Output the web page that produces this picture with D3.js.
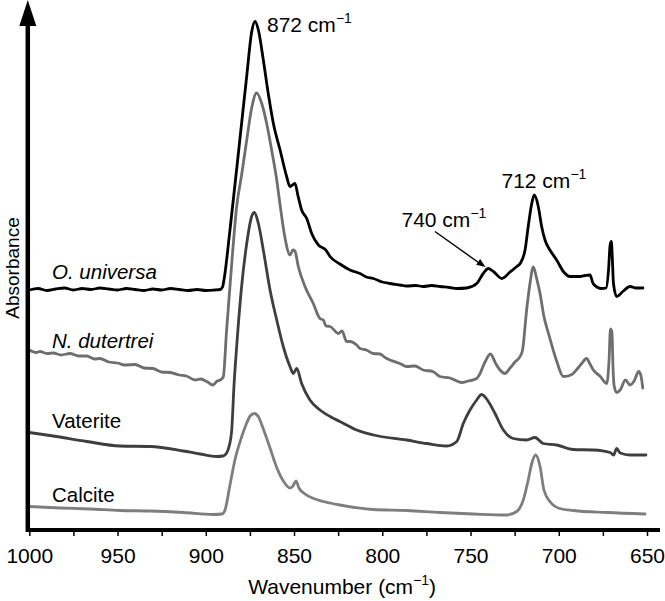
<!DOCTYPE html>
<html>
<head>
<meta charset="utf-8">
<script src="https://cdn.jsdelivr.net/npm/d3@7"></script>
<style>
  html, body { margin: 0; padding: 0; background: #fff; }
  svg { display: block; }
  text { font-family: "Liberation Sans", Arial, Helvetica, sans-serif; fill: #000; }
</style>
</head>
<body>
<svg id="chart" width="665" height="601"></svg>
<script>
// ---------- data (wavenumber cm^-1, absorbance a.u. incl. vertical offset) ----------
const majorTicks = [1000, 950, 900, 850, 800, 750, 700, 650];
const minorTicks = [975, 925, 875, 825, 775, 725, 675];
const seriesNames = ["O. universa", "N. dutertrei", "Vaterite", "Calcite"];
const peakWavenumbers = [872, 740, 712];

const oUniversa = [
  [1000,48.0],[995,48.3],[990,47.9],[985,48.2],[980,48.4],[975,48.0],[970,48.3],[965,48.1],
  [960,48.4],[955,48.2],[950,48.0],[945,48.3],[940,48.1],[935,47.9],[930,48.2],[925,48.0],
  [920,48.3],[915,48.1],[910,47.9],[905,48.1],[900,47.9],[895,48.0],[891.9,48.1],[890.5,48.6],
  [889.7,50.0],[886.3,60.0],[880.6,78.4],[876.8,90.8],[874.0,99.6],[872.1,101.7],
  [870.2,100.0],[867.4,94.0],[864.6,87.3],[861.7,81.3],[857.9,76.0],[854.2,70.7],[852.3,68.7],
  [849.5,69.3],[847.6,66.6],[845.7,64.0],[842.8,62.3],[840.0,59.3],[836.2,57.0],[832,56.0],
  [829.6,54.7],[824.0,53.2],[818.3,52.0],[812.6,51.3],[809,50.6],[805.1,50.3],[800,49.6],
  [795.6,49.3],[790,49.0],[786.2,48.8],[781,48.9],[776.8,48.7],[772,48.9],[767.3,48.7],
  [762,48.5],[757.8,48.3],[752.2,48.4],[746.5,49.3],[742.8,51.3],[739.9,52.3],[736.7,51.6],
  [732.3,50.3],[727.6,51.6],[723.8,52.7],[721.9,53.3],[719.1,56.0],[717.3,60.7],[715.3,65.3],
  [713.9,67.0],[711.6,64.7],[709.7,60.7],[707.8,58.0],[705.0,56.0],[701.2,54.0],[697.4,51.7],
  [693.6,50.7],[688.0,50.7],[685,50.9],[682.3,51.0],[680.4,49.2],[675.7,48.3],[673.2,48.4],
  [671.8,52.0],[670.9,57.0],[670.2,57.7],[669.6,54.0],[669.0,49.3],[667.2,46.7],[663.4,47.8],
  [659.6,48.7],[656.2,48.4],[652.3,48.4]
];

const nDutertrei = [
  [1000,36.0],[996,35.5],[993.9,35.7],[990,35.3],[986.4,35.4],[982,35.0],[977,35.3],[972,34.8],
  [967.5,34.8],[963,34.2],[960,34.3],[955,33.6],[950,33.4],[946,33.0],[940,33.1],[935,32.4],
  [930,32.3],[925,31.6],[920,31.5],[915,31.0],[911,30.8],[906,30.0],[903,30.2],[899,29.6],
  [896,29.0],[893.5,29.8],[891.9,30.0],[890.1,30.6],[888.2,40.0],[885.3,53.3],[882.5,64.7],
  [879.7,71.0],[876.8,78.0],[874.0,84.4],[871.2,87.4],[868.3,85.3],[865.5,81.3],[862.7,76.0],
  [859.8,70.0],[857.9,65.0],[855.1,58.4],[852.3,55.0],[850.6,56.0],[849.5,55.8],[847.6,52.7],
  [843.8,48.7],[839.1,45.3],[835.3,42.3],[833.4,42.0],[831.9,40.8],[829.6,40.7],[824.9,39.3],
  [822.8,39.8],[820.2,37.7],[818.3,37.7],[814.5,37.0],[812.6,36.3],[809,36.0],[805.1,35.3],
  [801.3,35.2],[798,34.4],[795.6,34.0],[790.0,33.3],[786.2,32.7],[781.5,32.8],[776.8,32.0],
  [771.3,31.7],[767.3,30.7],[761.7,30.4],[755.0,29.5],[752.2,29.7],[746.5,30.3],[744.6,31.3],
  [741.8,33.6],[738.7,35.2],[735.6,33.2],[733.3,32.0],[730.5,31.3],[727.6,32.4],[724.8,33.6],
  [721.9,34.7],[720.5,36.0],[718.2,44.0],[716.3,49.3],[714.4,52.6],[712.6,50.4],[710.6,47.3],
  [708.4,42.7],[705.9,39.4],[701.2,33.8],[697.4,30.7],[694.8,30.8],[691.8,31.3],[689.1,32.4],
  [687.0,33.3],[684.3,34.3],[682.3,33.2],[680.4,32.0],[676.7,30.8],[672.8,29.3],[671.5,34.0],
  [670.7,40.2],[669.9,39.6],[669.2,32.0],[668.7,29.0],[667.2,27.5],[665.2,28.0],[662.2,30.0],
  [659.6,29.0],[657.3,29.8],[654.7,31.7],[653.4,30.8],[652.4,28.4]
];

const vaterite = [
  [1000,19.5],[986.4,18.8],[967.5,17.7],[948.6,16.8],[931.6,16.7],[912.7,15.8],[903.3,15.2],
  [893.8,14.7],[890.2,14.8],[888.2,15.4],[886.9,16.6],[885.3,20.0],[884.0,29.0],[882.5,36.7],
  [879.7,48.7],[876.8,57.3],[874.0,62.7],[872.5,63.5],[870.2,61.3],[867.4,56.0],[863.6,48.0],
  [859.8,42.0],[856.1,36.7],[852.3,32.7],[850.4,31.3],[848.5,32.3],[845.7,29.3],[841.0,26.0],
  [835.3,24.0],[829.6,22.7],[824.0,21.7],[814.5,20.0],[805.1,19.0],[786.2,18.0],[774.8,17.3],
  [763.5,16.8],[757.8,17.7],[754.1,21.3],[750.3,24.0],[746.5,26.0],[743.7,27.1],[739.9,25.7],
  [736.1,23.3],[731.4,20.0],[725.8,18.3],[718.2,18.0],[713.5,18.5],[708.8,17.3],[701.2,17.0],
  [691.8,16.1],[680.4,16.0],[670.9,15.5],[668.9,15.0],[667.2,16.3],[665.2,15.4],[659.6,15.0],
  [650.6,15.0]
];

const calcite = [
  [1000,4.7],[982.6,4.4],[965.6,4.2],[948.6,3.9],[931.6,3.8],[912.7,3.5],[895.7,3.1],[890.8,3.2],
  [889.1,4.0],[886.3,9.0],[883.5,14.0],[879.7,18.6],[876.8,21.4],[874.9,22.8],[872.5,23.3],
  [870.1,22.6],[867.6,20.4],[863.6,16.4],[859.7,12.4],[855.7,9.6],[852.3,8.4],[850.6,8.8],
  [848.9,9.8],[847.2,8.4],[843.8,7.2],[838.1,6.2],[829.6,5.4],[824.0,5.0],[805.1,4.1],
  [786.2,3.9],[767.3,3.5],[748.4,3.2],[729.5,3.0],[723.8,3.7],[720.1,6.0],[717.3,10.0],
  [715.3,13.3],[713.1,15.0],[710.6,12.7],[708.4,8.0],[705.0,5.7],[699.4,4.3],[691.8,3.9],
  [672.8,3.5],[651.1,3.2]
];

const seriesData = [oUniversa, nDutertrei, vaterite, calcite];

// ---------- drawing ----------
const svg = d3.select("#chart");
const x = d3.scaleLinear().domain([1000, 650]).range([29.3, 647]);
const y = d3.scaleLinear().domain([0, 106]).range([530, 0]);

const colors = ["#000000", "#6e6e6e", "#3e3e3e", "#7e7e7e"];
const line = d3.line().x(d => x(d[0])).y(d => y(d[1])).curve(d3.curveMonotoneX);

svg.append("g").selectAll("path")
  .data(seriesData)
  .join("path")
  .attr("d", line)
  .attr("fill", "none")
  .attr("stroke", (d, i) => colors[i])
  .attr("stroke-width", 2.8)
  .attr("stroke-linejoin", "round")
  .attr("stroke-linecap", "round");

// x axis
const axisY = y(0);
const gMajor = svg.append("g").attr("transform", `translate(0,${axisY})`)
  .call(d3.axisBottom(x).tickValues(majorTicks).tickSize(6).tickSizeOuter(0).tickPadding(12)
        .tickFormat(d3.format("d")));
const gMinor = svg.append("g").attr("transform", `translate(0,${axisY})`)
  .call(d3.axisBottom(x).tickValues(minorTicks).tickSize(6).tickSizeOuter(0).tickFormat(""));
[gMajor, gMinor].forEach(g => {
  g.select(".domain").remove();
  g.selectAll(".tick line").attr("stroke", "#000").attr("stroke-width", 1.5);
});
gMajor.selectAll(".tick text")
  .attr("font-size", 21)
  .attr("font-family", '"Liberation Sans", Arial, sans-serif')
  .attr("fill", "#000");

svg.append("line")
  .attr("x1", 26).attr("x2", 660)
  .attr("y1", axisY).attr("y2", axisY)
  .attr("stroke", "#000").attr("stroke-width", 4);

// y axis with arrow
const axisX = 27.8;
svg.append("line")
  .attr("x1", axisX).attr("x2", axisX)
  .attr("y1", axisY + 2).attr("y2", 20)
  .attr("stroke", "#000").attr("stroke-width", 4.5);
svg.append("path")
  .attr("d", `M${axisX},0 L${axisX - 8.5},26 L${axisX + 8.5},26 Z`)
  .attr("fill", "#000");

// axis titles
const title = svg.append("text")
  .attr("x", (x(1000) + x(650)) / 2 + 4).attr("y", 594)
  .attr("text-anchor", "middle").attr("font-size", 21);
title.append("tspan").text("Wavenumber (cm");
title.append("tspan").text("\u22121").attr("font-size", 14).attr("dy", -9);
title.append("tspan").text(")").attr("font-size", 21).attr("dy", 9);

svg.append("text")
  .attr("transform", "translate(18.5,268) rotate(-90)")
  .attr("text-anchor", "middle").attr("font-size", 19)
  .text("Absorbance");

// series labels
const labelBaselines = [279, 348, 428, 501.5];
svg.append("g").selectAll("text")
  .data(seriesNames)
  .join("text")
  .attr("x", 52)
  .attr("y", (d, i) => labelBaselines[i])
  .attr("font-size", 20.5)
  .attr("font-style", (d, i) => i < 2 ? "italic" : "normal")
  .text(d => d);

// peak annotations
function peakLabel(px, py, value) {
  const t = svg.append("text").attr("x", px).attr("y", py).attr("font-size", 21);
  t.append("tspan").text(value + " cm");
  t.append("tspan").text("\u22121").attr("font-size", 14).attr("dy", -9);
}
peakLabel(267, 31.5, peakWavenumbers[0]);
peakLabel(401.5, 226.5, peakWavenumbers[1]);
peakLabel(501.5, 188, peakWavenumbers[2]);

// arrow to 740 band
const ax1 = 435, ay1 = 231.5;
const ax2 = x(741.5), ay2 = y(51.8) - 4;
svg.append("line")
  .attr("x1", ax1).attr("y1", ay1).attr("x2", ax2 - 6).attr("y2", ay2 - 3.8)
  .attr("stroke", "#000").attr("stroke-width", 1.4);
const ang = Math.atan2(ay2 - ay1, ax2 - ax1);
const hl = 9, hw = 3.5;
const bx = ax2 - hl * Math.cos(ang), by = ay2 - hl * Math.sin(ang);
svg.append("path")
  .attr("d", `M${ax2},${ay2} L${bx - hw * Math.sin(ang)},${by + hw * Math.cos(ang)} L${bx + hw * Math.sin(ang)},${by - hw * Math.cos(ang)} Z`)
  .attr("fill", "#000");
</script>
</body>
</html>
